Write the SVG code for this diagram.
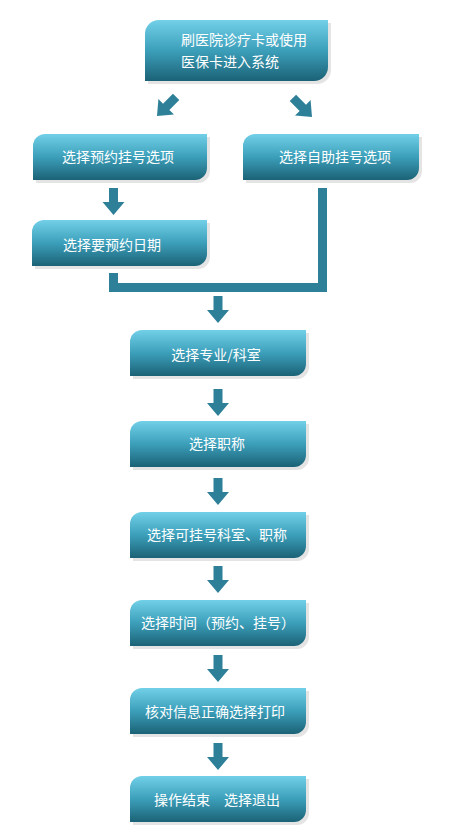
<svg xmlns="http://www.w3.org/2000/svg" xmlns:xlink="http://www.w3.org/1999/xlink" width="459" height="838" viewBox="0 0 459 838">
<style>
.box{fill:url(#g)}
.sh{fill:#e4e4e4}
.t{font-family:"Noto Sans CJK SC","Noto Sans",sans-serif;font-size:14px;fill:#ffffff;text-anchor:middle}
.tl{text-anchor:start}
.arr{fill:#2e8099}
.bar{fill:none;stroke:#2e8099;stroke-width:9;stroke-linejoin:miter}
</style>
<defs>
<linearGradient id="g" x1="0" y1="0" x2="0" y2="1">
<stop offset="0" stop-color="#72d0e8"/>
<stop offset="0.5" stop-color="#3c9fba"/>
<stop offset="1" stop-color="#1b6276"/>
</linearGradient>
<polygon id="a" points="-4.5,-27 4.5,-27 4.5,-13 11,-13 0,0 -11,-13 -4.5,-13"/>
</defs>
<rect width="459" height="838" fill="#ffffff"/>
<g id="connectors">
<use xlink:href="#a" class="arr" transform="translate(157,116) rotate(45)"/>
<use xlink:href="#a" class="arr" transform="translate(312,117) rotate(-45)"/>
<use xlink:href="#a" class="arr" transform="translate(113.5,215)"/>
<polyline class="bar" points="113.5,273 113.5,287.5 322.5,287.5 322.5,188"/>
<use xlink:href="#a" class="arr" transform="translate(218,323)"/>
<use xlink:href="#a" class="arr" transform="translate(218,416)"/>
<use xlink:href="#a" class="arr" transform="translate(218,505)"/>
<use xlink:href="#a" class="arr" transform="translate(218,593)"/>
<use xlink:href="#a" class="arr" transform="translate(218,682)"/>
<use xlink:href="#a" class="arr" transform="translate(218,770)"/>
</g>
<g id="n1">
<path class="sh" d="M161,23 H331 V70 A14 14 0 0 1 317 84 H148 V37 A14 14 0 0 1 161,23 Z"/>
<path class="box" d="M159,20 H328 V67 A14 14 0 0 1 314 81 H145 V34 A14 14 0 0 1 159,20 Z"/>
<text class="t tl" x="181" y="45">刷医院诊疗卡或使用</text>
<text class="t tl" x="181" y="67">医保卡进入系统</text>
</g>
<g id="n2">
<path class="sh" d="M47,137 H210 V171 A12 12 0 0 1 198 183 H36 V149 A12 12 0 0 1 47,137 Z"/>
<path class="box" d="M45,134 H207 V168 A12 12 0 0 1 195 180 H33 V146 A12 12 0 0 1 45,134 Z"/>
<text class="t" x="118" y="162">选择预约挂号选项</text>
</g>
<g id="n3">
<path class="sh" d="M257,137 H422 V171 A12 12 0 0 1 410 183 H246 V149 A12 12 0 0 1 257,137 Z"/>
<path class="box" d="M255,134 H419 V168 A12 12 0 0 1 407 180 H243 V146 A12 12 0 0 1 255,134 Z"/>
<text class="t" x="335" y="162">选择自助挂号选项</text>
</g>
<g id="n4">
<path class="sh" d="M46,223 H210 V257 A12 12 0 0 1 198 269 H35 V235 A12 12 0 0 1 46,223 Z"/>
<path class="box" d="M44,220 H207 V254 A12 12 0 0 1 195 266 H32 V232 A12 12 0 0 1 44,220 Z"/>
<text class="t" x="112" y="250">选择要预约日期</text>
</g>
<g id="n5">
<path class="sh" d="M144,333 H309 V367 A12 12 0 0 1 297 379 H133 V345 A12 12 0 0 1 144,333 Z"/>
<path class="box" d="M142,330 H306 V364 A12 12 0 0 1 294 376 H130 V342 A12 12 0 0 1 142,330 Z"/>
<text class="t" x="216" y="360">选择专业/科室</text>
</g>
<g id="n6">
<path class="sh" d="M144,424 H309 V458 A12 12 0 0 1 297 470 H133 V436 A12 12 0 0 1 144,424 Z"/>
<path class="box" d="M142,421 H306 V455 A12 12 0 0 1 294 467 H130 V433 A12 12 0 0 1 142,421 Z"/>
<text class="t" x="217" y="449">选择职称</text>
</g>
<g id="n7">
<path class="sh" d="M144,515 H309 V549 A12 12 0 0 1 297 561 H133 V527 A12 12 0 0 1 144,515 Z"/>
<path class="box" d="M142,512 H306 V546 A12 12 0 0 1 294 558 H130 V524 A12 12 0 0 1 142,512 Z"/>
<text class="t" x="217" y="540">选择可挂号科室、职称</text>
</g>
<g id="n8">
<path class="sh" d="M144,603 H309 V637 A12 12 0 0 1 297 649 H133 V615 A12 12 0 0 1 144,603 Z"/>
<path class="box" d="M142,600 H306 V634 A12 12 0 0 1 294 646 H130 V612 A12 12 0 0 1 142,600 Z"/>
<text class="t" x="218" y="628">选择时间（预约、挂号）</text>
</g>
<g id="n9">
<path class="sh" d="M144,691 H309 V725 A12 12 0 0 1 297 737 H133 V703 A12 12 0 0 1 144,691 Z"/>
<path class="box" d="M142,688 H306 V722 A12 12 0 0 1 294 734 H130 V700 A12 12 0 0 1 142,688 Z"/>
<text class="t" x="215" y="717">核对信息正确选择打印</text>
</g>
<g id="n10">
<path class="sh" d="M144,779 H309 V813 A12 12 0 0 1 297 825 H133 V791 A12 12 0 0 1 144,779 Z"/>
<path class="box" d="M142,776 H306 V810 A12 12 0 0 1 294 822 H130 V788 A12 12 0 0 1 142,776 Z"/>
<text class="t" x="217" y="805">操作结束　选择退出</text>
</g>
</svg>
